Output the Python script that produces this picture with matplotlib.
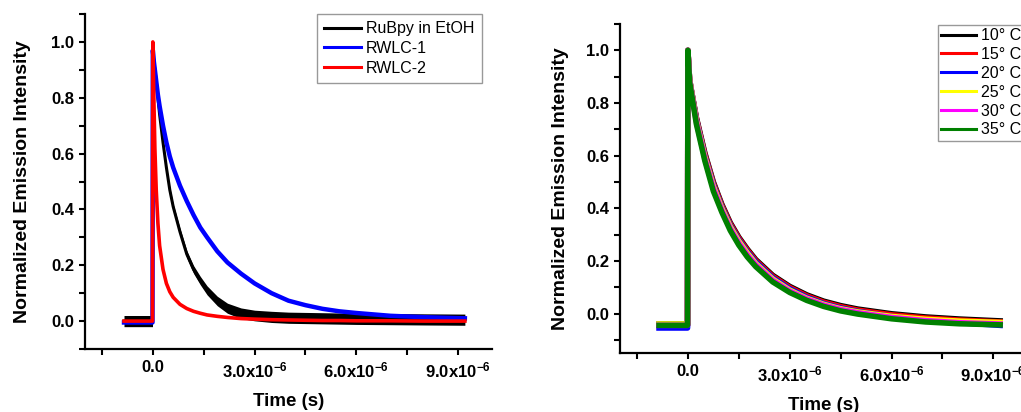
import matplotlib
matplotlib.use("Agg")
import matplotlib.pyplot as plt
from matplotlib.ticker import MultipleLocator, FuncFormatter
import numpy as np

plt.rcParams['font.family'] = ['Liberation Sans', 'DejaVu Sans']
plt.rcParams['mathtext.fontset'] = 'custom'
plt.rcParams['mathtext.rm'] = 'Liberation Sans:bold'
plt.rcParams['mathtext.it'] = 'Liberation Sans:bold'
plt.rcParams['mathtext.bf'] = 'Liberation Sans:bold'
plt.rcParams['mathtext.default'] = 'rm'

# ---------------- Left panel data (time in microseconds) ----------------
t_left_us = [-0.85, -0.6, -0.3, -0.01, 0.0, 0.03, 0.06, 0.1, 0.15, 0.2, 0.3, 0.4, 0.5, 0.6,
             0.8, 1.0, 1.2, 1.4, 1.6, 1.9, 2.2, 2.6, 3.0, 3.5, 4.0, 4.5, 5.0, 5.5, 6.0, 7.0, 8.0, 9.2]
rubpy_etoh = [0.0, 0.0, 0.0, 0.0, 0.96, 0.93, 0.90, 0.86, 0.80, 0.74, 0.64, 0.55, 0.47, 0.41,
              0.32, 0.24, 0.185, 0.145, 0.11, 0.072, 0.046, 0.028, 0.02, 0.015, 0.012, 0.011,
              0.01, 0.009, 0.008, 0.007, 0.006, 0.005]
rubpy_noise = [0.02, 0.02, 0.02, 0.02, 0.004, 0.004, 0.004, 0.005, 0.005, 0.006, 0.007, 0.008,
               0.009, 0.01, 0.012, 0.013, 0.014, 0.015, 0.016, 0.017, 0.018, 0.019, 0.019, 0.02,
               0.02, 0.02, 0.02, 0.02, 0.02, 0.02, 0.02, 0.02]
rwlc1 = [-0.005, -0.005, -0.005, -0.005, 0.97, 0.93, 0.90, 0.86, 0.81, 0.77, 0.70, 0.64, 0.59, 0.55,
         0.485, 0.43, 0.38, 0.335, 0.30, 0.25, 0.21, 0.17, 0.135, 0.10, 0.073, 0.057, 0.044,
         0.035, 0.029, 0.019, 0.014, 0.010]
rwlc2 = [0.0, 0.0, 0.0, 0.0, 1.0, 0.80, 0.62, 0.47, 0.35, 0.27, 0.185, 0.135, 0.105, 0.085,
         0.06, 0.045, 0.035, 0.028, 0.022, 0.017, 0.013, 0.009, 0.007, 0.005, 0.004, 0.003,
         0.002, 0.002, 0.001, 0.001, 0.0, 0.0]
left_labels = ['RuBpy in EtOH', 'RWLC-1', 'RWLC-2']

# ---------------- Right panel data (time in microseconds) ----------------
t_right_us = [-0.85, -0.5, -0.2, -0.01, 0.0, 0.05, 0.1, 0.25, 0.5, 0.75, 1.0, 1.25, 1.5, 1.75,
              2.0, 2.5, 3.0, 3.5, 4.0, 4.5, 5.0, 6.0, 7.0, 8.0, 9.2]
temp_10 = [-0.04, -0.04, -0.04, -0.04, 1.0, 0.89, 0.85, 0.745, 0.61, 0.50, 0.415, 0.345, 0.29,
           0.245, 0.205, 0.145, 0.103, 0.071, 0.047, 0.030, 0.017, -0.001, -0.013, -0.021, -0.028]
temp_15 = [-0.045, -0.045, -0.045, -0.045, 1.0, 0.89, 0.85, 0.742, 0.606, 0.496, 0.411, 0.341,
           0.286, 0.241, 0.201, 0.141, 0.099, 0.067, 0.043, 0.026, 0.013, -0.005, -0.017, -0.025, -0.032]
temp_20 = [-0.055, -0.055, -0.055, -0.055, 1.0, 0.89, 0.85, 0.738, 0.60, 0.49, 0.405, 0.335,
           0.28, 0.235, 0.196, 0.136, 0.094, 0.062, 0.038, 0.021, 0.008, -0.011, -0.025, -0.035, -0.045]
temp_25 = [-0.04, -0.04, -0.04, -0.04, 1.0, 0.89, 0.85, 0.734, 0.595, 0.484, 0.40, 0.33, 0.275,
           0.23, 0.19, 0.131, 0.089, 0.058, 0.035, 0.018, 0.006, -0.011, -0.022, -0.029, -0.034]
temp_30 = [-0.045, -0.045, -0.045, -0.045, 1.0, 0.885, 0.845, 0.728, 0.588, 0.476, 0.393, 0.323,
           0.268, 0.223, 0.185, 0.126, 0.085, 0.055, 0.032, 0.015, 0.003, -0.015, -0.027, -0.035, -0.04]
temp_35 = [-0.045, -0.045, -0.045, -0.045, 1.0, 0.88, 0.84, 0.72, 0.58, 0.465, 0.385, 0.315, 0.26,
           0.215, 0.178, 0.12, 0.08, 0.05, 0.027, 0.01, -0.002, -0.02, -0.032, -0.039, -0.043]
right_labels = ['10° C', '15° C', '20° C', '25° C', '30° C', '35° C']

W, H = 1021, 412
fig = plt.figure(figsize=(W / 100, H / 100), dpi=100)

def xfmt(x, pos):
    if abs(x) < 1e-12:
        return '0.0'
    return '%.1fx10$^{-6}$' % (x / 1e-6)

def style_axes(ax, ylim, ylabelpad):
    ax.set_xlim(-2e-6, 10e-6)
    ax.set_ylim(*ylim)
    for s in ['top', 'right']:
        ax.spines[s].set_visible(False)
    for s in ['left', 'bottom']:
        ax.spines[s].set_linewidth(1.6)
    ax.xaxis.set_major_locator(MultipleLocator(3e-6))
    ax.xaxis.set_minor_locator(MultipleLocator(1.5e-6))
    ax.yaxis.set_major_locator(MultipleLocator(0.2))
    ax.yaxis.set_minor_locator(MultipleLocator(0.1))
    ax.xaxis.set_major_formatter(FuncFormatter(xfmt))
    ax.yaxis.set_major_formatter(FuncFormatter(lambda v, p: '%.1f' % v))
    ax.tick_params(which='both', direction='out', length=4, width=1.5)
    ax.tick_params(which='major', labelsize=12, pad=4)
    for lab in ax.get_xticklabels() + ax.get_yticklabels():
        lab.set_fontweight('bold')
    ax.set_xlabel('Time (s)', fontsize=13.5, fontweight='bold', labelpad=9)
    ax.set_ylabel('Normalized Emission Intensity', fontsize=14, fontweight='bold',
                  labelpad=ylabelpad)

# Left panel
ax1 = fig.add_axes([85 / W, 1 - 349 / H, 407 / W, 335 / H])
tl = np.array(t_left_us) * 1e-6
yb = np.array(rubpy_etoh)
nb = np.array(rubpy_noise)
ax1.fill_between(tl, yb - nb, yb + nb, color='black', lw=0)
ax1.plot(tl, rubpy_etoh, color='black', lw=2.2, label=left_labels[0])
ax1.plot(tl, rwlc1, color='#0000ff', lw=3.2, label=left_labels[1])
ax1.plot(tl, rwlc2, color='#ff0000', lw=2.6, label=left_labels[2])
style_axes(ax1, (-0.1, 1.1), 14)
leg1 = ax1.legend(loc='upper left', bbox_to_anchor=(316.7 / W, 1 - 14 / H),
                  bbox_transform=fig.transFigure, fontsize=11.5, frameon=True, fancybox=False,
                  edgecolor='#808080', handlelength=2.3, handletextpad=0.35,
                  borderpad=0.45, labelspacing=0.3, borderaxespad=0)
leg1.get_frame().set_linewidth(1.0)
for l in leg1.get_lines():
    l.set_linewidth(2.2)

# Right panel
ax2 = fig.add_axes([620 / W, 1 - 353 / H, 407.3 / W, 329 / H])
tr = np.array(t_right_us) * 1e-6
colors = ['black', '#ff0000', '#0000ff', '#ffff00', '#ff00ff', '#008000']
series = [temp_10, temp_15, temp_20, temp_25, temp_30, temp_35]
for ys, c, lab in zip(series, colors, right_labels):
    ax2.plot(tr, ys, color=c, lw=4.0, label=lab)
style_axes(ax2, (-0.15, 1.1), 12)
leg2 = ax2.legend(loc='upper left', bbox_to_anchor=(937.7 / W, 1 - 25 / H),
                  bbox_transform=fig.transFigure, fontsize=11.5, frameon=True, fancybox=False,
                  edgecolor='#808080', handlelength=2.2, handletextpad=0.3,
                  borderpad=0.2, labelspacing=0.24, borderaxespad=0)
leg2.get_frame().set_linewidth(1.0)
for l in leg2.get_lines():
    l.set_linewidth(2.2)

fig.savefig('out.png', dpi=100)
